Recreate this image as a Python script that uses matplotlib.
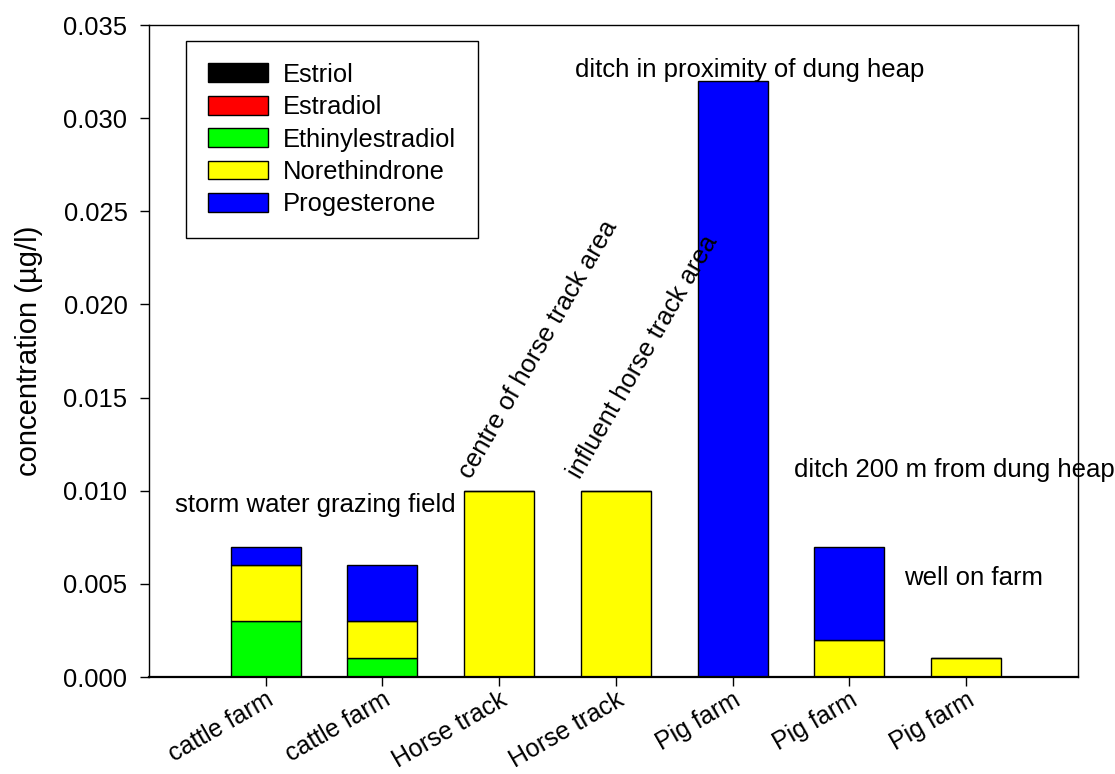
import matplotlib
matplotlib.use("Agg")
import matplotlib.pyplot as plt
import numpy as np

plt.rcParams['font.family'] = ['Liberation Sans', 'DejaVu Sans']

# sampling sites (x axis)
sites = ['cattle farm', 'cattle farm', 'Horse track', 'Horse track',
         'Pig farm', 'Pig farm', 'Pig farm']

# concentrations in ug/l, stacked bottom -> top
compounds = ['Estriol', 'Estradiol', 'Ethinylestradiol', 'Norethindrone', 'Progesterone']
estriol = [0, 0, 0, 0, 0, 0, 0]
estradiol = [0, 0, 0, 0, 0, 0, 0]
ethinylestradiol = [0.003, 0.001, 0, 0, 0, 0, 0]
norethindrone = [0.003, 0.002, 0.010, 0.010, 0, 0.002, 0.001]
progesterone = [0.001, 0.003, 0, 0, 0.032, 0.005, 0]
colors = ['#000000', '#ff0000', '#00ff00', '#ffff00', '#0000ff']

fig = plt.figure(figsize=(11.15, 7.74), dpi=100)
ax = fig.add_axes([0.1336, 0.1253, 0.8332, 0.8424])

x = np.arange(len(sites))
bottom = np.zeros(len(sites))
for name, vals, c in zip(compounds,
                         [estriol, estradiol, ethinylestradiol, norethindrone, progesterone],
                         colors):
    vals = np.array(vals, dtype=float)
    ax.bar(x, vals, width=0.6, bottom=bottom, color=c, edgecolor='black',
           linewidth=1.0, label=name)
    bottom += vals

ax.set_xlim(-1.0, 6.96)
ax.set_ylim(0, 0.035)
ax.set_yticks(np.arange(0, 0.0351, 0.005))
ax.set_yticklabels([f'{v:.3f}' for v in np.arange(0, 0.0351, 0.005)])
ax.set_xticks(x)
ax.set_xticklabels(sites, rotation=30, ha='right', rotation_mode='anchor')
ax.tick_params(axis='both', direction='out', length=6.5, width=1, labelsize=18.4)
ax.tick_params(axis='x', pad=1, labelsize=18)
ax.tick_params(axis='y', pad=9)
ax.set_ylabel('concentration (µg/l)', fontsize=21, labelpad=15)

for s in ax.spines.values():
    s.set_linewidth(1.0)
ax.spines['bottom'].set_linewidth(1.6)

# site descriptions
fs = 18.5
ax.text(-0.777, 0.00886, 'storm water grazing field', fontsize=fs)
ax.text(1.76, 0.0106, 'centre of horse track area', fontsize=fs,
        rotation=60, rotation_mode='anchor', ha='left', va='baseline')
ax.text(2.69, 0.0106, 'influent horse track area', fontsize=fs,
        rotation=60, rotation_mode='anchor', ha='left', va='baseline')
ax.text(2.654, 0.0322, 'ditch in proximity of dung heap', fontsize=fs)
ax.text(4.523, 0.01074, 'ditch 200 m from dung heap', fontsize=fs)
ax.text(5.467, 0.00494, 'well on farm', fontsize=fs)

leg = ax.legend(loc='upper left', bbox_to_anchor=(0.0398, 0.9755), borderaxespad=0,
                fontsize=18.4, fancybox=False, framealpha=1, edgecolor='black',
                handlelength=2.35, handleheight=0.75, handletextpad=0.6,
                labelspacing=0.33, borderpad=0.85)
leg.get_frame().set_linewidth(1.0)

fig.savefig('out.png', dpi=100)
